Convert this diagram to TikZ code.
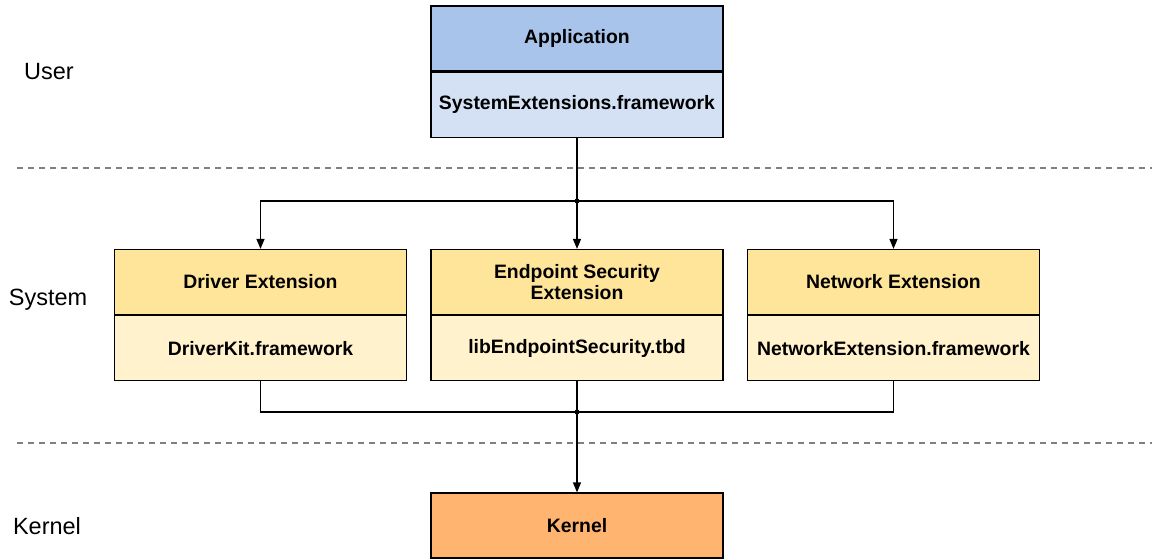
\documentclass[tikz,border=0pt]{standalone}
\usepackage{fontspec}
\setmainfont{Liberation Sans}
\usetikzlibrary{positioning,arrows.meta}
\definecolor{appblue}{HTML}{A9C4EB}
\definecolor{fwblue}{HTML}{D4E1F5}
\definecolor{extyellow}{HTML}{FFE599}
\definecolor{libyellow}{HTML}{FFF2CC}
\definecolor{kernorange}{HTML}{FFB570}
\begin{document}
\begin{tikzpicture}[x=1pt, y=-1pt,
  box/.style={draw, line width=1.2pt, minimum width=292pt, minimum height=65pt,
              inner sep=0pt, align=center, font=\fontsize{19.4}{20.5}\selectfont\bfseries},
  lane/.style={font=\fontsize{23.5}{26}\selectfont},
  sep/.style={draw=gray, line width=1.2pt, dash pattern=on 6pt off 5pt},
  link/.style={line width=1.4pt},
  arr/.style={link, -{Triangle[width=8pt, length=10pt]}},
  dot/.style={circle, fill, inner sep=0pt, minimum size=5pt}]
  \useasboundingbox (0,0) rectangle (1152,559);
  % layer names and separators
  \node[lane] (user) at (49,72) {User};
  \node[lane] (system) at (48,300) {System};
  \node[lane] (kernel) at (47,526) {Kernel};
  \draw[sep] (17,168) -- (1152,168);
  \draw[sep] (17,443) -- (1152,443);
  % user layer
  \node[box, fill=appblue] (app) at (577,38.5) {Application};
  \node[box, fill=fwblue, below=0pt of app] (sysext) {SystemExtensions.framework};
  % system layer
  \node[box, fill=extyellow] (drv) at (260.5,282) {Driver Extension};
  \node[box, fill=libyellow, below=0pt of drv] (drvkit) {DriverKit.framework};
  \node[box, fill=extyellow] (eps) at (577,282) {Endpoint Security\\Extension};
  \node[box, fill=libyellow, below=0pt of eps] (libeps) {libEndpointSecurity.tbd};
  \node[box, fill=extyellow] (net) at (893.5,282) {Network Extension};
  \node[box, fill=libyellow, below=0pt of net] (netfw) {NetworkExtension.framework};
  % kernel layer
  \node[box, fill=kernorange] (kern) at (577,525.5) {Kernel};
  % connectors
  \node[dot] (split) at (577,201) {};
  \node[dot] (join) at (577,412) {};
  \draw[link] (sysext.south) -- (split.center);
  \draw[arr] (split.center) -| (drv.north);
  \draw[arr] (split.center) -- (eps.north);
  \draw[arr] (split.center) -| (net.north);
  \draw[link] (drvkit.south) |- (join.center);
  \draw[link] (libeps.south) -- (join.center);
  \draw[link] (netfw.south) |- (join.center);
  \draw[arr] (join.center) -- (kern.north);
\end{tikzpicture}
\end{document}
